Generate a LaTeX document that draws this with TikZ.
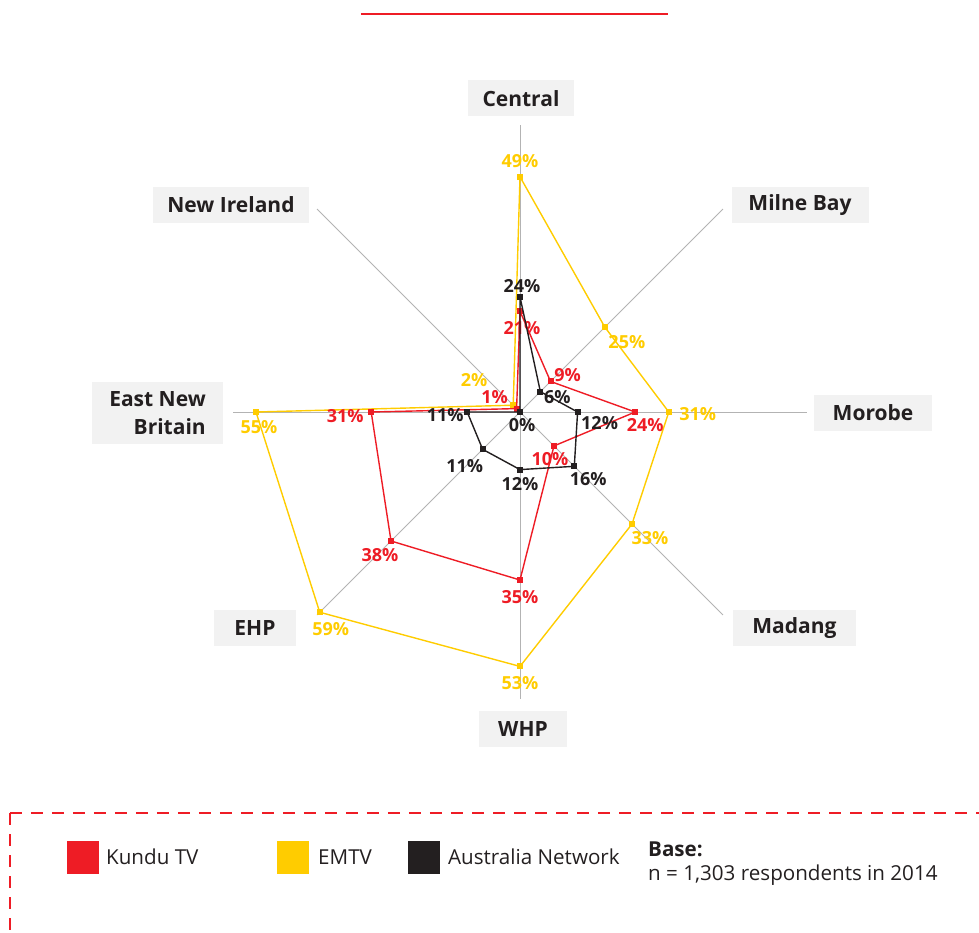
\documentclass[tikz,border=0pt]{standalone}
\usepackage{fontspec}
\setmainfont{Open Sans}
\usetikzlibrary{positioning}

\definecolor{kundu}{HTML}{EE1C25}
\definecolor{emtv}{HTML}{FFCC00}
\definecolor{abcnet}{HTML}{231F20}
\definecolor{ink}{HTML}{231F20}
\definecolor{panel}{HTML}{F2F2F2}
\definecolor{spoke}{HTML}{B3B3B3}

\newcommand{\pctscale}{4.8}

\begin{document}
\begin{tikzpicture}[
        x = 1pt, y = 1pt,
        region/.style = {fill = panel, text = ink, minimum height = 36pt, inner xsep = 0pt,
                         font = \bfseries\fontsize{21}{28}\selectfont},
        pct/.style = {inner sep = 0pt, font = \bfseries\fontsize{18}{20}\selectfont},
        series/.style = {line width = 1.4pt, line join = round},
        marker/.style = {minimum size = 6pt, inner sep = 0pt},
        swatch/.style = {minimum width = 32pt, minimum height = 33pt, inner sep = 0pt},
        legendtext/.style = {text = ink, inner sep = 0pt, anchor = base west,
                             font = \fontsize{20.6}{24}\selectfont}
    ]
    \useasboundingbox (-520,-520) rectangle (459,412);

    % title rule
    \coordinate (rule-l) at (-159,398);
    \coordinate (rule-r) at (148,398);
    \draw[kundu, line width = 1.5pt] (rule-l) -- (rule-r);

    % spokes
    \coordinate (o) at (0,0);
    \foreach \i in {1,...,8}
        \draw[spoke, line width = 1pt] (o) -- (135-45*\i:287) coordinate (spoke-\i);

    % region boxes
    \node[region, minimum width = 106pt] (central)    at (1,313.5)      {Central};
    \node[region, minimum width = 137pt] (milnebay)   at (280,207)      {Milne Bay};
    \node[region, minimum width = 118pt] (morobe)     at (353,-1)       {Morobe};
    \node[region, minimum width = 123pt] (madang)     at (274.5,-216)   {Madang};
    \node[region, minimum width = 88pt]  (whp)        at (3,-317)       {WHP};
    \node[region, minimum width = 82pt]  (ehp)        at (-265,-216)    {EHP};
    \node[region, minimum width = 131pt, minimum height = 62pt, align = right]
                                         (enb)        at (-362.5,-1)    {East New\\Britain};
    \node[region, minimum width = 156pt] (newireland) at (-289,207)     {New Ireland};

    % data points
    \foreach \v [count = \i] in {49,25,31,33,53,59,55,2}
        \coordinate (emtv-\i) at (135-45*\i:\v*\pctscale);
    \foreach \v [count = \i] in {21,9,24,10,35,38,31,1}
        \coordinate (kundu-\i) at (135-45*\i:\v*\pctscale);
    \foreach \v [count = \i] in {24,6,12,16,12,11,11,0}
        \coordinate (abcnet-\i) at (135-45*\i:\v*\pctscale);

    % EMTV
    \draw[series, emtv] (emtv-1) -- (emtv-2) -- (emtv-3) -- (emtv-4) -- (emtv-5)
        -- (emtv-6) -- (emtv-7) -- (emtv-8) -- cycle;
    \foreach \i in {1,...,8}
        \node[marker, fill = emtv] at (emtv-\i) {};
    \foreach \i/\dx/\dy/\t in {1/0/16/49, 2/22/-15/25, 3/29/-2/31, 4/18/-14/33,
                               5/0/-17/53, 6/11/-17/59, 7/3/-15/55, 8/-39/25/2}
        \node[pct, text = emtv] (emtv-lab-\i) at ([shift = {(\dx,\dy)}]emtv-\i) {\t\%};

    % Kundu TV
    \draw[series, kundu] (kundu-1) -- (kundu-2) -- (kundu-3) -- (kundu-4) -- (kundu-5)
        -- (kundu-6) -- (kundu-7) -- (kundu-8) -- cycle;
    \foreach \i in {1,...,8}
        \node[marker, fill = kundu] at (kundu-\i) {};
    \foreach \i/\dx/\dy/\t in {1/2/-17/21, 2/17/6/9, 3/10/-13/24, 4/-4/-13/10,
                               5/0/-17/35, 6/-11/-14/38, 7/-26/-4/31, 8/-22/12/1}
        \node[pct, text = kundu] (kundu-lab-\i) at ([shift = {(\dx,\dy)}]kundu-\i) {\t\%};

    % Australia Network
    \draw[series, abcnet] (abcnet-1) -- (abcnet-2) -- (abcnet-3) -- (abcnet-4) -- (abcnet-5)
        -- (abcnet-6) -- (abcnet-7) -- (abcnet-8) -- cycle;
    \foreach \i in {1,...,8}
        \node[marker, fill = abcnet] at (abcnet-\i) {};
    \foreach \i/\dx/\dy/\t in {1/2/11/24, 2/17/-5/6, 3/22/-11/12, 4/14/-13/16,
                               5/0/-14/12, 6/-18/-17/11, 7/-22/-3/11, 8/2/-13/0}
        \node[pct, text = abcnet] (abcnet-lab-\i) at ([shift = {(\dx,\dy)}]abcnet-\i) {\t\%};

    % legend frame
    \coordinate (legend-corner) at (-510,-401);
    \draw[kundu, line width = 1.2pt, dash pattern = on 12pt off 9pt] (legend-corner) -- (470,-401);
    \draw[kundu, line width = 1.2pt, dash pattern = on 12pt off 9pt] (legend-corner) -- (-510,-530);

    % legend keys
    \node[swatch, fill = kundu]  (key-kundu)  at (-437,-445.5) {};
    \node[swatch, fill = emtv]   (key-emtv)   at (-227,-445.5) {};
    \node[swatch, fill = abcnet] (key-abcnet) at (-96,-445.5)  {};
    \node[legendtext] (key-kundu-text)  at (-414,-452) {Kundu TV};
    \node[legendtext] (key-emtv-text)   at (-202,-452) {EMTV};
    \node[legendtext] (key-abcnet-text) at (-72,-452)  {Australia Network};

    % base note
    \node[legendtext, font = \bfseries\fontsize{20.6}{24}\selectfont] (base) at (128,-444) {Base:};
    \node[legendtext] (base-note) at (128,-468) {n = 1,303 respondents in 2014};
\end{tikzpicture}
\end{document}
